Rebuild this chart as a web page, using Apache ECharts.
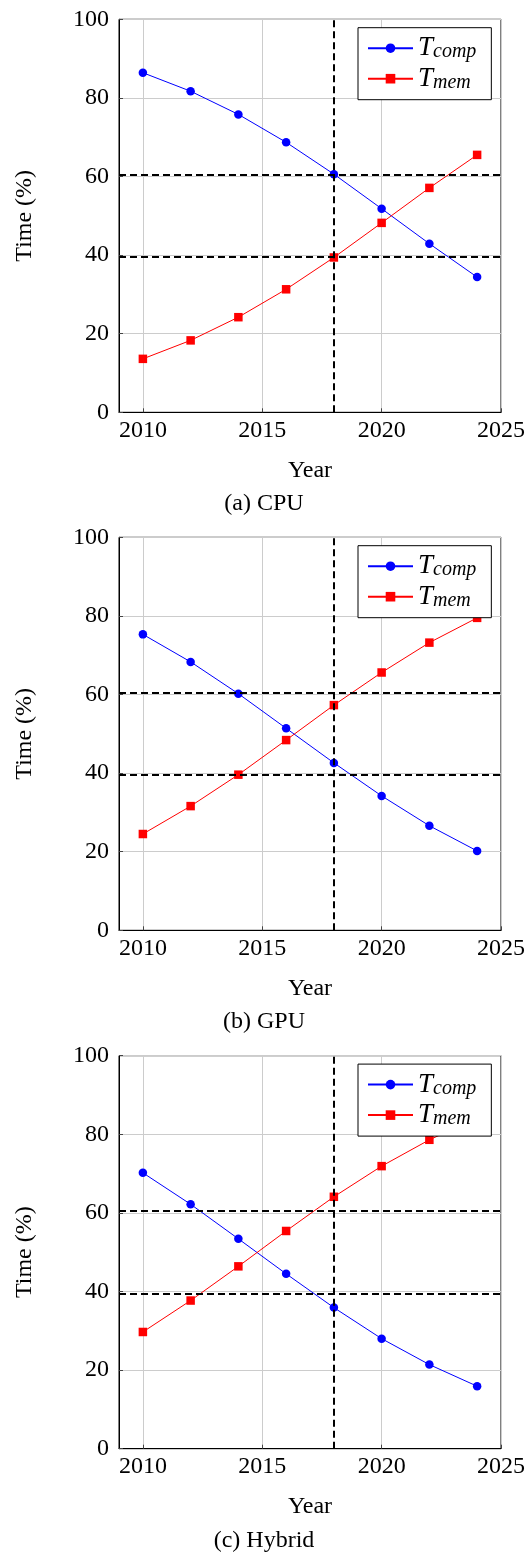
<!DOCTYPE html>
<html>
<head>
<meta charset="utf-8">
<script src="https://cdn.jsdelivr.net/npm/echarts@6/dist/echarts.min.js"></script>
<style>
html,body{margin:0;padding:0;background:#fff;}
#c{width:528px;height:1556px;}
</style>
</head>
<body>
<div id="c"></div>
<script>
const years = [2010, 2012, 2014, 2016, 2018, 2020, 2022, 2024];
const cpuComp = [86.4, 81.7, 75.8, 68.7, 60.6, 51.8, 42.9, 34.4];
const cpuMem  = [13.6, 18.3, 24.2, 31.3, 39.4, 48.2, 57.1, 65.5];
const gpuComp = [75.3, 68.3, 60.2, 51.4, 42.6, 34.2, 26.6, 20.2];
const gpuMem  = [24.5, 31.6, 39.6, 48.4, 57.3, 65.6, 73.2, 79.5];
const hybComp = [70.2, 62.2, 53.4, 44.5, 35.9, 28.0, 21.4, 15.9];
const hybMem  = [29.7, 37.7, 46.4, 55.4, 64.1, 71.9, 78.6, 84.1];
const vLine = 2018;
const hLines = [60.5, 39.5];
const xTicks = [2010, 2015, 2020, 2025];
const captions = ['(a) CPU', '(b) GPU', '(c) Hybrid'];
const seriesNames = ['T_comp', 'T_mem'];

const panels = [[cpuComp, cpuMem], [gpuComp, gpuMem], [hybComp, hybMem]];
const FONT = 'Liberation Serif';
const gridTops = [19.3, 537.3, 1055.7];
const GL = 119, GW = 382.7, GH = 393;

const pair = (ys) => years.map((y, i) => [y, ys[i]]);

const grids = [], xAxes = [], yAxes = [], series = [], legends = [], titles = [];
panels.forEach((p, k) => {
  const top = gridTops[k];
  grids.push({left: GL, top: top, width: GW, height: GH, show: true,
    borderColor: '#000', borderWidth: 1, backgroundColor: 'transparent', containLabel: false});
  xAxes.push({type: 'value', gridIndex: k, min: 2009, max: 2025,
    name: 'Year', nameLocation: 'middle', nameGap: 46,
    nameTextStyle: {fontFamily: FONT, fontSize: 24, color: '#000'},
    axisLine: {show: true, lineStyle: {color: '#000', width: 1}},
    axisTick: {show: true, inside: true, length: 4, lineStyle: {color: '#444'}, customValues: xTicks},
    axisLabel: {fontFamily: FONT, fontSize: 24, color: '#000', margin: 6, customValues: xTicks,
      formatter: (v) => String(v)},
    splitLine: {show: true, lineStyle: {color: '#cccccc', width: 1}}
  });
  yAxes.push({type: 'value', gridIndex: k, min: 0, max: 100, interval: 20,
    name: 'Time (%)', nameLocation: 'middle', nameGap: 82, nameRotate: 90,
    nameTextStyle: {fontFamily: FONT, fontSize: 24, color: '#000'},
    axisLine: {show: true, lineStyle: {color: '#000', width: 1}},
    axisTick: {show: true, inside: true, length: 4, lineStyle: {color: '#444'}},
    axisLabel: {fontFamily: FONT, fontSize: 24, color: '#000', margin: 10},
    splitLine: {show: true, lineStyle: {color: '#cccccc', width: 1}}
  });
  series.push({name: seriesNames[0], type: 'line', xAxisIndex: k, yAxisIndex: k,
    data: pair(p[0]), symbol: 'circle', symbolSize: 8.5,
    itemStyle: {color: '#0000ff'}, lineStyle: {color: '#0000ff', width: 1},
    markLine: {silent: true, symbol: 'none', animation: false,
      label: {show: false},
      lineStyle: {color: '#000', width: 2, type: [7, 4]},
      data: [{xAxis: vLine}].concat(hLines.map(v => ({yAxis: v})))
    }
  });
  series.push({name: seriesNames[1], type: 'line', xAxisIndex: k, yAxisIndex: k,
    data: pair(p[1]), symbol: 'rect', symbolSize: 8.5,
    itemStyle: {color: '#ff0000'}, lineStyle: {color: '#ff0000', width: 1}
  });
  legends.push({left: 358, top: top + 8.4, orient: 'vertical',
    data: seriesNames, selectedMode: false,
    backgroundColor: '#fff', borderColor: '#000', borderWidth: 1, borderRadius: 0,
    padding: [7, 15, 7, 9], itemGap: 3, itemWidth: 45, itemHeight: 12,
    formatter: (name) => name === 'T_comp' ? '{t|T}{s|comp}' : '{t|T}{s|mem}',
    textStyle: {color: '#000', fontFamily: FONT,
      rich: {
        t: {fontFamily: FONT, fontStyle: 'italic', fontSize: 27, lineHeight: 28, color: '#000'},
        s: {fontFamily: FONT, fontStyle: 'italic', fontSize: 20, lineHeight: 28, verticalAlign: 'bottom', color: '#000'}
      }
    }
  });
  titles.push({text: captions[k], left: 'center', top: top + 472.7, padding: 0,
    textStyle: {fontFamily: FONT, fontSize: 24, fontWeight: 'normal', color: '#000'}});
});

const chart = echarts.init(document.getElementById('c'), null, {renderer: 'canvas'});
chart.setOption({
  animation: false,
  backgroundColor: '#fff',
  title: titles,
  legend: legends,
  grid: grids,
  xAxis: xAxes,
  yAxis: yAxes,
  series: series
});
</script>
</body>
</html>
